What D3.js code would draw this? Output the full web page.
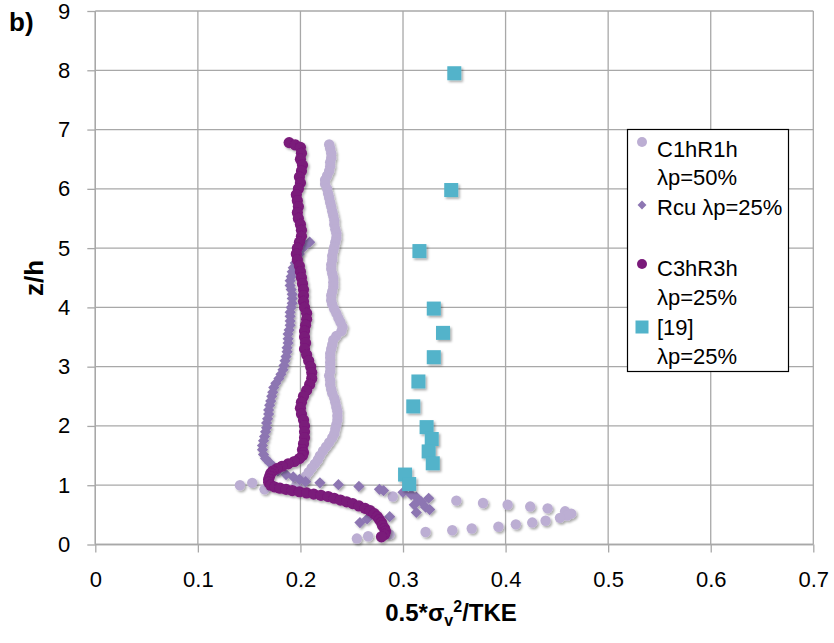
<!DOCTYPE html>
<html>
<head>
<meta charset="utf-8">
<script src="https://cdn.jsdelivr.net/npm/d3@7/dist/d3.min.js"></script>
<style>
  html, body { margin: 0; padding: 0; background: #fff; }
  svg { display: block; font-family: "Liberation Sans", Arial, sans-serif; }
</style>
</head>
<body>
<svg id="chart" width="834" height="643"></svg>
<script>
// ---------------- DATA ----------------
const xTickValues = [0, 0.1, 0.2, 0.3, 0.4, 0.5, 0.6, 0.7];
const xTickLabels = ["0", "0.1", "0.2", "0.3", "0.4", "0.5", "0.6", "0.7"];
const yTickValues = [0, 1, 2, 3, 4, 5, 6, 7, 8, 9];
const yTickLabels = ["0", "1", "2", "3", "4", "5", "6", "7", "8", "9"];

const seriesNames = ["C1hR1h\nλp=50%", "Rcu λp=25%", "C3hR3h\nλp=25%", "[19]\nλp=25%"];

// C1hR1h λp=50%  (light purple circles)
const c1hX = [0.228,0.229,0.230,0.230,0.229,0.229,0.228,0.226,0.224,0.224,0.226,0.227,0.228,0.229,0.230,0.231,0.232,0.233,0.233,0.234,0.235,0.235,0.234,0.233,0.232,0.231,0.231,0.230,0.230,0.231,0.232,0.232,0.232,0.231,0.230,0.230,0.231,0.233,0.235,0.237,0.239,0.241,0.240,0.235,0.232,0.231,0.230,0.229,0.229,0.229,0.229,0.229,0.228,0.229,0.229,0.230,0.231,0.233,0.234,0.235,0.236,0.236,0.236,0.235,0.234,0.233,0.231,0.228,0.225,0.222,0.219,0.217,0.214,0.211,0.208,0.205,0.202,0.199,0.196,
  0.141,0.153,0.165,0.290,0.352,0.378,0.402,0.424,0.441,0.458,0.464,0.460,0.453,0.439,0.426,0.410,0.393,0.367,0.348,0.322,0.287,0.266,0.255];
const c1hZ = [6.75,6.68,6.60,6.52,6.45,6.38,6.30,6.22,6.15,6.08,6.00,5.92,5.85,5.77,5.70,5.62,5.55,5.47,5.40,5.32,5.25,5.17,5.10,5.02,4.95,4.87,4.80,4.72,4.65,4.57,4.50,4.42,4.35,4.27,4.20,4.12,4.05,3.97,3.90,3.82,3.75,3.67,3.60,3.52,3.45,3.37,3.30,3.22,3.15,3.07,3.00,2.92,2.85,2.77,2.70,2.62,2.55,2.47,2.40,2.32,2.25,2.17,2.10,2.02,1.95,1.87,1.80,1.72,1.65,1.58,1.50,1.43,1.36,1.29,1.22,1.15,1.09,1.04,1.00,
  1.00,1.04,0.93,0.81,0.74,0.70,0.67,0.64,0.61,0.56,0.52,0.49,0.45,0.40,0.37,0.34,0.30,0.27,0.24,0.21,0.17,0.14,0.10];

// Rcu λp=25%  (mid purple diamonds)
const rcuX = [0.209,0.205,0.201,0.199,0.197,0.195,0.193,0.192,0.191,0.190,0.190,0.191,0.192,0.192,0.192,0.191,0.190,0.190,0.190,0.190,0.189,0.188,0.188,0.188,0.187,0.187,0.186,0.185,0.184,0.183,0.181,0.179,0.176,0.174,0.173,0.172,0.171,0.170,0.169,0.169,0.168,0.167,0.167,0.166,0.165,0.164,0.163,0.163,0.164,0.166,0.170,0.174,0.178,0.186,0.193,0.199,0.205,0.219,0.237,0.257,0.277,0.281,0.300,0.308,0.313,0.325,0.318,0.311,0.322,0.326,0.313,0.287,0.265,0.258];
const rcuZ = [5.10,5.05,4.98,4.90,4.82,4.75,4.67,4.60,4.52,4.45,4.37,4.30,4.22,4.15,4.07,4.00,3.92,3.85,3.77,3.70,3.62,3.55,3.47,3.40,3.32,3.25,3.17,3.10,3.02,2.95,2.87,2.80,2.72,2.65,2.57,2.50,2.42,2.35,2.27,2.20,2.12,2.05,1.97,1.90,1.82,1.75,1.67,1.60,1.52,1.45,1.38,1.31,1.24,1.18,1.14,1.10,1.06,1.04,1.01,0.98,0.93,0.91,0.88,0.84,0.80,0.78,0.72,0.67,0.63,0.59,0.54,0.47,0.43,0.37];

// C3hR3h λp=25%  (dark purple circles)
const c3hX = [0.189,0.195,0.200,0.201,0.200,0.202,0.201,0.199,0.200,0.198,0.196,0.197,0.198,0.197,0.198,0.200,0.201,0.201,0.199,0.197,0.196,0.197,0.199,0.200,0.201,0.202,0.203,0.203,0.203,0.204,0.206,0.206,0.205,0.204,0.204,0.205,0.204,0.206,0.208,0.210,0.211,0.211,0.209,0.206,0.203,0.201,0.200,0.201,0.203,0.204,0.204,0.204,0.203,0.202,0.203,0.202,0.199,0.194,0.188,0.182,0.177,0.173,0.171,0.170,0.169,0.169,0.171,0.175,0.180,0.186,0.192,0.199,0.206,0.213,0.220,0.227,0.233,0.239,0.245,0.251,0.257,0.263,0.268,0.272,0.275,0.277,0.279,0.280,0.282,0.283,0.282,0.279,0.276];
const c3hZ = [6.78,6.74,6.70,6.60,6.50,6.40,6.30,6.20,6.10,6.00,5.90,5.80,5.70,5.60,5.50,5.40,5.30,5.20,5.10,5.00,4.90,4.80,4.70,4.60,4.50,4.40,4.30,4.20,4.10,4.00,3.90,3.80,3.70,3.60,3.50,3.40,3.30,3.20,3.10,3.00,2.90,2.80,2.70,2.60,2.50,2.40,2.30,2.20,2.10,2.00,1.90,1.80,1.70,1.60,1.55,1.50,1.45,1.40,1.36,1.32,1.28,1.24,1.20,1.15,1.10,1.05,1.00,0.97,0.95,0.93,0.91,0.89,0.87,0.85,0.83,0.81,0.78,0.75,0.72,0.69,0.65,0.61,0.57,0.52,0.47,0.42,0.37,0.32,0.27,0.22,0.17,0.13];

// [19] λp=25%  (blue squares)
const ref19X = [0.350,0.347,0.316,0.330,0.339,0.330,0.315,0.310,0.323,0.328,0.325,0.329,0.302,0.306];
const ref19Z = [7.95,5.98,4.95,3.98,3.57,3.16,2.75,2.33,1.98,1.78,1.57,1.37,1.18,1.02];

const colors = ["#bcaed3", "#8d76b2", "#7a1a7a", "#52b3ca"];

// ---------------- LAYOUT ----------------
const svg = d3.select("#chart");
const X0 = 95.3, X1 = 813.3, Y0 = 544.5, Y1 = 11;
const x = d3.scaleLinear().domain([0, 0.7]).range([X0, X1]);
const y = d3.scaleLinear().domain([0, 9]).range([Y0, Y1]);
const gridColor = "#a8a8a8";

const defs = svg.append("defs");
const f = defs.append("filter").attr("id", "sh").attr("x", "-20%").attr("y", "-20%").attr("width", "140%").attr("height", "140%");
f.append("feDropShadow").attr("dx", 1.6).attr("dy", 1.8).attr("stdDeviation", 1.3)
  .attr("flood-color", "#000").attr("flood-opacity", 0.33);

// gridlines
const grid = svg.append("g");
grid.selectAll("line.h").data(yTickValues).join("line")
  .attr("x1", X0).attr("x2", X1).attr("y1", d => y(d)).attr("y2", d => y(d))
  .attr("stroke", gridColor).attr("stroke-width", 1.3);
grid.selectAll("line.v").data(xTickValues).join("line")
  .attr("y1", Y1).attr("y2", Y0).attr("x1", d => x(d)).attr("x2", d => x(d))
  .attr("stroke", gridColor).attr("stroke-width", 1.3);

// axes
const xAxis = d3.axisBottom(x).tickValues(xTickValues)
  .tickFormat((d, i) => xTickLabels[i]).tickSize(8).tickPadding(19);
const yAxis = d3.axisLeft(y).tickValues(yTickValues)
  .tickFormat((d, i) => yTickLabels[i]).tickSize(8).tickPadding(17);

function styleAxis(g) {
  g.select(".domain").remove();
  g.selectAll(".tick line").attr("stroke", gridColor).attr("stroke-width", 1.3);
  g.selectAll(".tick text").attr("fill", "#000").style("font-size", "22px")
    .style("font-family", "'Liberation Sans', Arial, sans-serif");
}
const gx = svg.append("g").attr("transform", `translate(0,${Y0})`).call(xAxis).call(styleAxis);
gx.append("line").attr("x1", X0).attr("x2", X1).attr("stroke", gridColor).attr("stroke-width", 1.3);
const gy = svg.append("g").attr("transform", `translate(${X0},0)`).call(yAxis).call(styleAxis);
gy.append("line").attr("y1", Y1).attr("y2", Y0).attr("stroke", gridColor).attr("stroke-width", 1.3);

// ---------------- MARKS ----------------
const c1hPts = d3.zip(c1hX, c1hZ);
const rcuPts = d3.zip(rcuX, rcuZ);
const c3hPts = d3.zip(c3hX, c3hZ);
const refPts = d3.zip(ref19X, ref19Z);

const diamond = d3.symbol().type(d3.symbolDiamond2).size(80);
const plot = svg.append("g");

plot.append("g").attr("filter", "url(#sh)").selectAll("circle").data(c1hPts).join("circle")
  .attr("cx", d => x(d[0])).attr("cy", d => y(d[1])).attr("r", 5.2).attr("fill", colors[0]);

plot.append("g").attr("filter", "url(#sh)").selectAll("path").data(rcuPts).join("path")
  .attr("d", diamond).attr("transform", d => `translate(${x(d[0])},${y(d[1])})`).attr("fill", colors[1]);

plot.append("g").attr("filter", "url(#sh)").selectAll("circle").data(c3hPts).join("circle")
  .attr("cx", d => x(d[0])).attr("cy", d => y(d[1])).attr("r", 5.6).attr("fill", colors[2]);

plot.append("g").attr("filter", "url(#sh)").selectAll("rect").data(refPts).join("rect")
  .attr("x", d => x(d[0]) - 7).attr("y", d => y(d[1]) - 7).attr("width", 14).attr("height", 14)
  .attr("fill", colors[3]);

// ---------------- LEGEND ----------------
const leg = svg.append("g");
leg.append("rect").attr("x", 627.5).attr("y", 129.5).attr("width", 161).attr("height", 242)
  .attr("fill", "#fff").attr("stroke", "#000").attr("stroke-width", 1.2);
const legMarkY = [142, 205, 264, 327];
const legTextY = [[157, 185], [215], [276, 305], [335, 364]];
seriesNames.forEach((name, i) => {
  const lines = name.split("\n");
  lines.forEach((ln, j) => {
    leg.append("text").attr("x", 657).attr("y", legTextY[i][j]).text(ln)
      .attr("fill", "#000").style("font-size", "22px");
  });
});
leg.append("circle").attr("cx", 642).attr("cy", legMarkY[0]).attr("r", 5).attr("fill", colors[0]);
leg.append("path").attr("d", d3.symbol().type(d3.symbolDiamond2).size(50)())
  .attr("transform", `translate(642,${legMarkY[1]})`).attr("fill", colors[1]);
leg.append("circle").attr("cx", 642).attr("cy", legMarkY[2]).attr("r", 5).attr("fill", colors[2]);
leg.append("rect").attr("x", 635.5).attr("y", legMarkY[3] - 6.5).attr("width", 13).attr("height", 13).attr("fill", colors[3]);

// ---------------- TITLES ----------------
svg.append("text").attr("x", 9).attr("y", 31).text("b)")
  .style("font-size", "26px").style("font-weight", "bold").attr("fill", "#000");

svg.append("text").attr("transform", "translate(43,278) rotate(-90)")
  .attr("text-anchor", "middle").style("font-size", "26px").style("font-weight", "bold")
  .attr("fill", "#000").text("z/h");

const xt = svg.append("text").attr("x", 451).attr("y", 621).attr("text-anchor", "middle")
  .style("font-size", "24px").style("font-weight", "bold").attr("fill", "#000");
xt.append("tspan").text("0.5*σ");
xt.append("tspan").attr("dy", 5).style("font-size", "16px").text("v");
xt.append("tspan").attr("dy", -14).style("font-size", "16px").text("2");
xt.append("tspan").attr("dy", 9).text("/TKE");
</script>
</body>
</html>
